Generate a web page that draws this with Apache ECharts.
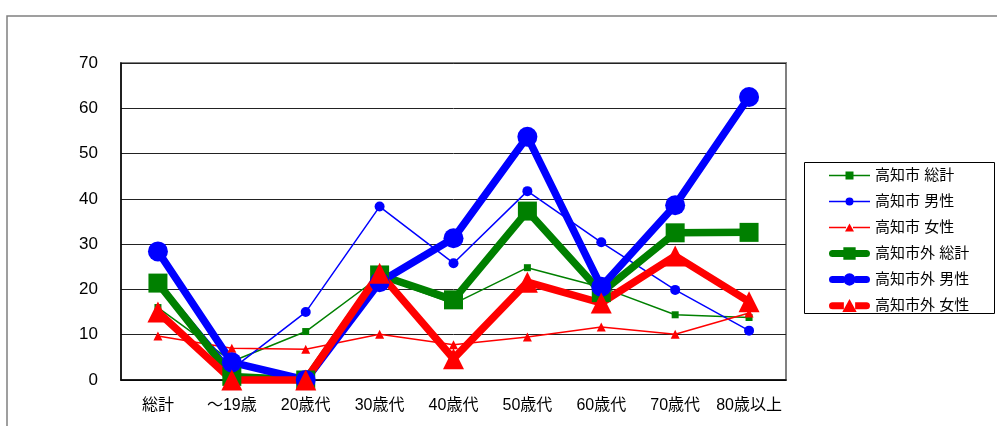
<!DOCTYPE html>
<html>
<head>
<meta charset="utf-8">
<script src="https://cdn.jsdelivr.net/npm/echarts@6/dist/echarts.min.js"></script>
<style>
  html, body { margin: 0; padding: 0; background: #fff; }
  #chart { width: 997px; height: 426px; }
</style>
</head>
<body>
<div id="chart"></div>
<script>
// Age groups along the x axis
const categories = ['総計', '～19歳', '20歳代', '30歳代', '40歳代', '50歳代', '60歳代', '70歳代', '80歳以上'];

// Series names (legend order)
const seriesNames = ['高知市 総計', '高知市 男性', '高知市 女性', '高知市外 総計', '高知市外 男性', '高知市外 女性'];

// Values per age group
const cityTotal     = [16.0, 4.1, 10.7, 22.8, 16.8, 24.8, 20.5, 14.4, 13.8];
const cityMale      = [22.0, 2.4, 15.0, 38.3, 25.8, 41.7, 30.4, 19.9, 10.9];
const cityFemale    = [9.7, 7.0, 6.8, 10.1, 7.8, 9.5, 11.7, 10.1, 14.8];
const outsideTotal  = [21.4, 0.8, 0.0, 23.2, 17.7, 37.3, 19.3, 32.5, 32.6];
const outsideMale   = [28.4, 3.9, 0.0, 21.6, 31.3, 53.7, 20.6, 38.6, 62.5];
const outsideFemale = [15.0, 0.0, 0.0, 23.6, 4.7, 21.6, 17.0, 27.4, 17.3];

// Y axis range
const yMin = 0, yMax = 70, yStep = 10;

const FONT = '"Liberation Sans", "Noto Sans CJK JP", sans-serif';

// Legend keys: a line with the marker in its middle (41 wide)
function thinLine(mx0, mx1) {
  return 'M0,6.25H' + mx0 + 'V7.75H0Z M' + mx1 + ',6.25H41V7.75H' + mx1 + 'Z';
}
function thickLine(mx0, mx1) {
  return 'M4,3.5H' + mx0 + 'V10.5H4A3.5,3.5 0 0 1 4,3.5Z M' + mx1 + ',3.5H37A3.5,3.5 0 0 1 37,10.5H' + mx1 + 'Z';
}
const legendIcons = [
  'path://' + thinLine(16.5, 24.5) + ' M16.5,3H24.5V11H16.5Z',
  'path://' + thinLine(17, 24) + ' M16.5,7A4,4 0 1 1 24.5,7A4,4 0 1 1 16.5,7Z',
  'path://' + thinLine(17, 24) + ' M20.5,3L25,11L16,11Z',
  'path://' + thickLine(14.5, 26.5) + ' M14.5,1H26.5V13H14.5Z',
  'path://' + thickLine(15, 26) + ' M14.5,7A6,6 0 1 1 26.5,7A6,6 0 1 1 14.5,7Z',
  'path://' + thickLine(15, 26) + ' M20.5,0.5L27.5,13L13.5,13Z'
];

function lineSeries(name, data, color, symbol, size, width) {
  return {
    name: name,
    type: 'line',
    data: data,
    symbol: symbol,
    symbolSize: size,
    showAllSymbol: true,
    clip: false,
    animation: false,
    itemStyle: { color: color },
    lineStyle: { color: color, width: width },
    emphasis: { disabled: true }
  };
}

const chart = echarts.init(document.getElementById('chart'), null, { renderer: 'canvas' });

chart.setOption({
  backgroundColor: '#fff',
  animation: false,
  textStyle: { fontFamily: FONT },
  graphic: [
    {
      type: 'rect',
      shape: { x: 7, y: 16, width: 1100, height: 500 },
      style: { fill: 'none', stroke: '#808080', lineWidth: 1.5 },
      silent: true, z: -10
    },
    {
      type: 'rect',
      shape: { x: 804.5, y: 162.5, width: 190, height: 151 },
      style: { fill: '#fff', stroke: '#000', lineWidth: 1 },
      silent: true, z: -5
    }
  ],
  grid: {
    left: 121, right: 211, top: 63, bottom: 46,
    show: true, borderColor: '#808080', borderWidth: 2, backgroundColor: 'transparent'
  },
  legend: {
    orient: 'vertical',
    left: 829, top: 168,
    padding: 0,
    itemWidth: 41, itemHeight: 14, itemGap: 11,
    symbolKeepAspect: true,
    data: seriesNames.map(function (n, i) { return { name: n, icon: legendIcons[i] }; }),
    textStyle: { fontSize: 15, color: '#000', fontFamily: FONT },
    selectedMode: false
  },
  xAxis: {
    type: 'category',
    data: categories,
    boundaryGap: true,
    axisLine: { lineStyle: { color: '#000', width: 1.5 } },
    axisTick: { inside: true, length: 5, interval: 0, lineStyle: { color: '#000' } },
    axisLabel: { color: '#000', fontSize: 16, margin: 18, interval: 0, fontFamily: FONT },
    splitLine: { show: false }
  },
  yAxis: {
    type: 'value',
    min: yMin, max: yMax, interval: yStep,
    axisLine: { show: true, lineStyle: { color: '#000', width: 1.5 } },
    axisTick: { show: false },
    axisLabel: { color: '#000', fontSize: 17, margin: 23, fontFamily: FONT },
    splitLine: { lineStyle: { color: '#222', width: 1 } }
  },
  series: [
    lineSeries(seriesNames[0], cityTotal,     '#008000', 'rect',     7,  1.5),
    lineSeries(seriesNames[1], cityMale,      '#0000ff', 'circle',   10, 1.5),
    lineSeries(seriesNames[2], cityFemale,    '#ff0000', 'triangle', 9,  1.5),
    lineSeries(seriesNames[3], outsideTotal,  '#008000', 'rect',     19, 7.5),
    lineSeries(seriesNames[4], outsideMale,   '#0000ff', 'circle',   20, 7.5),
    lineSeries(seriesNames[5], outsideFemale, '#ff0000', 'triangle', 21, 7.5)
  ]
});
</script>
</body>
</html>
